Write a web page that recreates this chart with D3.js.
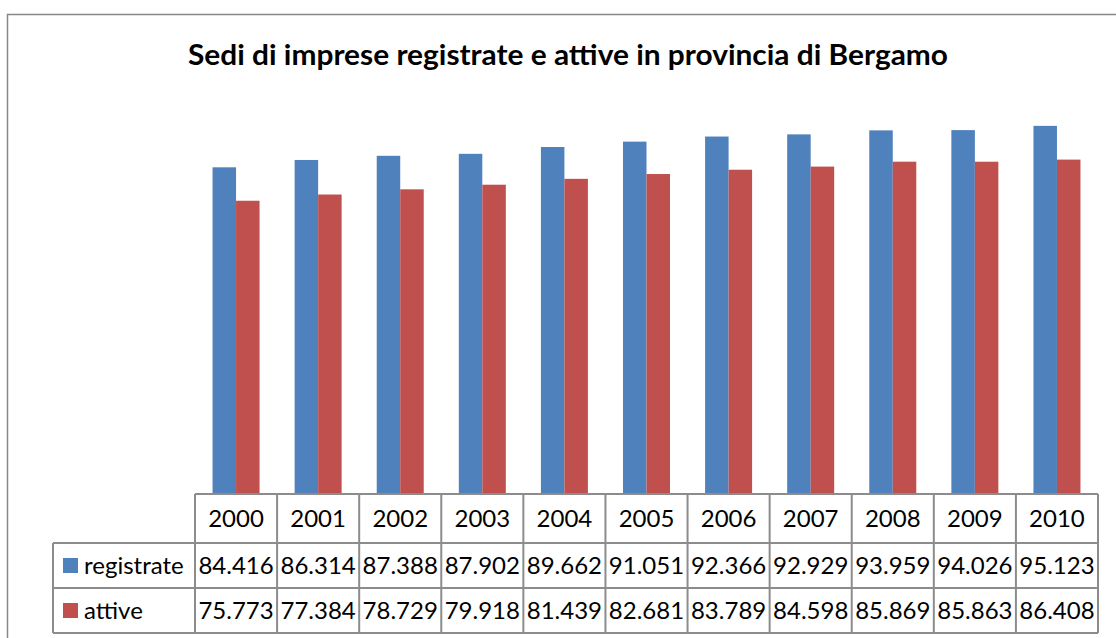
<!DOCTYPE html>
<html><head><meta charset="utf-8">
<script src="https://cdn.jsdelivr.net/npm/d3@7"></script>
<style>body{margin:0;background:#fff}svg{display:block}text{font-family:Lato,"Open Sans",sans-serif}</style>
</head><body>
<script>
const years = ["2000","2001","2002","2003","2004","2005","2006","2007","2008","2009","2010"];
const registrate = [84416,86314,87388,87902,89662,91051,92366,92929,93959,94026,95123];
const attive = [75773,77384,78729,79918,81439,82681,83789,84598,85869,85863,86408];
const seriesNames = ["registrate","attive"];
const colors = ["#4F81BD","#C0504D"];
const title = "Sedi di imprese registrate e attive in provincia di Bergamo";
const yDomain = [0, 100000];

(function(){
const W = 1116, H = 638;
const svg = d3.select("body").append("svg").attr("width", W).attr("height", H);

svg.append("rect").attr("x", 7.5).attr("y", 14.5).attr("width", W + 20).attr("height", H + 20)
  .attr("fill", "none").attr("stroke", "#878787").attr("stroke-width", 1.5);

svg.append("text").attr("x", 568).attr("y", 65).attr("text-anchor", "middle")
  .attr("font-weight", "bold").attr("font-size", 29).attr("fill", "#000")
  .attr("textLength", 760).attr("lengthAdjust", "spacingAndGlyphs").text(title);

const left = 195, right = 1098, base = 494, plotTop = 107;
const x = d3.scaleBand().domain(years).range([left, right]).paddingInner(0).paddingOuter(0);
const y = d3.scaleLinear().domain(yDomain).range([base, plotTop]);
const bw = 23.5;
const series = [registrate, attive];

series.forEach((vals, si) => {
  svg.append("g").selectAll("rect").data(years).join("rect")
    .attr("x", d => x(d) + x.bandwidth() / 2 - bw + si * bw)
    .attr("y", (d, i) => y(vals[i]))
    .attr("width", bw)
    .attr("height", (d, i) => base - y(vals[i]))
    .attr("fill", colors[si]);
});

const rowY = [494, 543, 588, 633];
const legendLeft = 53;
const g = svg.append("g").attr("stroke", "#8c8c8c").attr("stroke-width", 2).attr("fill", "none");
g.append("line").attr("x1", left).attr("x2", right).attr("y1", rowY[0]).attr("y2", rowY[0]);
[1, 2, 3].forEach(r => g.append("line").attr("x1", legendLeft).attr("x2", right).attr("y1", rowY[r]).attr("y2", rowY[r]));
years.forEach(yr => g.append("line").attr("x1", x(yr)).attr("x2", x(yr)).attr("y1", rowY[0]).attr("y2", rowY[3]));
g.append("line").attr("x1", right).attr("x2", right).attr("y1", rowY[0]).attr("y2", rowY[3]);
g.append("line").attr("x1", legendLeft).attr("x2", legendLeft).attr("y1", rowY[1]).attr("y2", rowY[3]);

const fs = 24;
svg.append("g").selectAll("text").data(years).join("text")
  .attr("x", d => x(d) + x.bandwidth() / 2).attr("y", (rowY[0] + rowY[1]) / 2 + 8)
  .attr("text-anchor", "middle").attr("font-size", fs).text(d => d);

const fmt = v => d3.format(",")(v).replace(/,/g, ".");
series.forEach((vals, si) => {
  const cy = (rowY[si + 1] + rowY[si + 2]) / 2;
  svg.append("g").selectAll("text").data(years).join("text")
    .attr("x", d => x(d) + x.bandwidth() / 2).attr("y", cy + 8)
    .attr("text-anchor", "middle").attr("font-size", fs).text((d, i) => fmt(vals[i]));
  svg.append("rect").attr("x", 63).attr("y", cy - 7.5).attr("width", 15).attr("height", 15).attr("fill", colors[si]);
  svg.append("text").attr("x", 84).attr("y", cy + 8).attr("font-size", fs).text(seriesNames[si]);
});
})();
</script>
</body></html>
